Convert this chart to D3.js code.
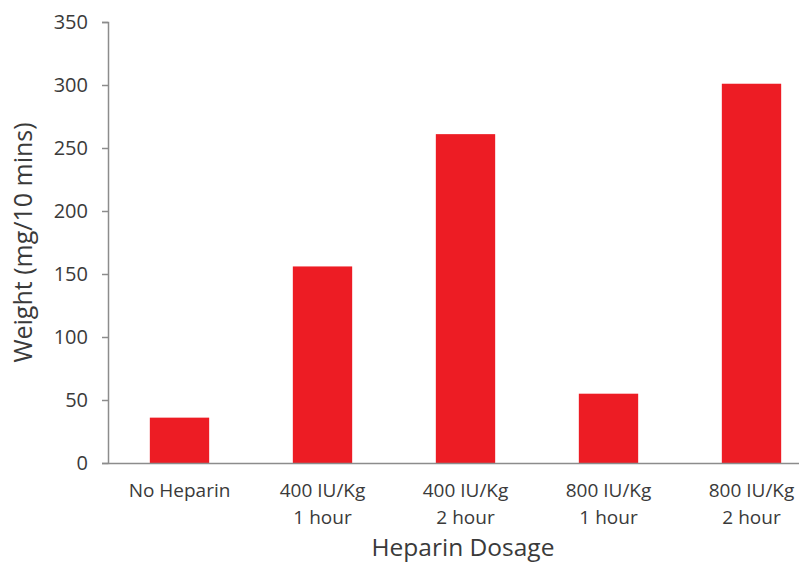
<!DOCTYPE html>
<html>
<head>
<meta charset="utf-8">
<script src="https://cdn.jsdelivr.net/npm/d3@7"></script>
<style>
  body { margin: 0; background: #fff; }
  svg text { font-family: "Open Sans", "Liberation Sans", sans-serif; fill: #3a3a3a; }
</style>
</head>
<body>
<svg id="chart" width="799" height="565"></svg>
<script>
// values
const categories = ["No Heparin", "400 IU/Kg|1 hour", "400 IU/Kg|2 hour", "800 IU/Kg|1 hour", "800 IU/Kg|2 hour"];
const weights = [36, 156, 261, 55, 301];
const yTicks = [0, 50, 100, 150, 200, 250, 300, 350];

const svg = d3.select("#chart");
const plotLeft = 108, plotRight = 823, plotTop = 22, plotBottom = 463;

const x = d3.scaleBand()
    .domain(categories)
    .range([plotLeft, plotRight])
    .paddingInner(0.585)
    .paddingOuter(0.2925);

const y = d3.scaleLinear().domain([0, 350]).range([plotBottom, plotTop]);

// bars
svg.selectAll("rect.bar")
    .data(weights)
    .enter()
    .append("rect")
    .attr("class", "bar")
    .attr("x", (d, i) => x(categories[i]))
    .attr("y", d => y(d))
    .attr("width", x.bandwidth())
    .attr("height", d => plotBottom - y(d))
    .attr("fill", "#ED1C24");

// y axis
const yAxis = svg.append("g")
    .attr("transform", `translate(${plotLeft},0)`)
    .call(d3.axisLeft(y).tickValues(yTicks).tickSize(6).tickPadding(14));
yAxis.select(".domain").attr("stroke", "#8c8c8c").attr("stroke-width", 1.5);
yAxis.selectAll(".tick line").attr("stroke", "#8c8c8c").attr("stroke-width", 1.5);
yAxis.selectAll(".tick text").attr("font-size", 20).style("fill", "#3a3a3a");

// x axis baseline
const xAxis = svg.append("g")
    .attr("transform", `translate(0,${plotBottom})`)
    .call(d3.axisBottom(x).tickSize(0).tickFormat(""));
xAxis.select(".domain").attr("stroke", "#8c8c8c").attr("stroke-width", 1.5);

// category labels, two lines each
xAxis.selectAll(".tick").each(function(d) {
    const lines = d.split("|");
    const t = d3.select(this).append("text")
        .attr("text-anchor", "middle")
        .attr("font-size", 19)
        .style("fill", "#3a3a3a");
    lines.forEach((ln, k) => {
        t.append("tspan").attr("x", 0).attr("y", 34 + k * 27).text(ln);
    });
});

// axis titles
svg.append("text")
    .attr("x", 463)
    .attr("y", 556)
    .attr("text-anchor", "middle")
    .attr("font-size", 24.5)
    .text("Heparin Dosage");

svg.append("text")
    .attr("transform", `translate(32,${(plotTop + plotBottom) / 2}) rotate(-90)`)
    .attr("text-anchor", "middle")
    .attr("font-size", 25)
    .text("Weight (mg/10 mins)");
</script>
</body>
</html>
